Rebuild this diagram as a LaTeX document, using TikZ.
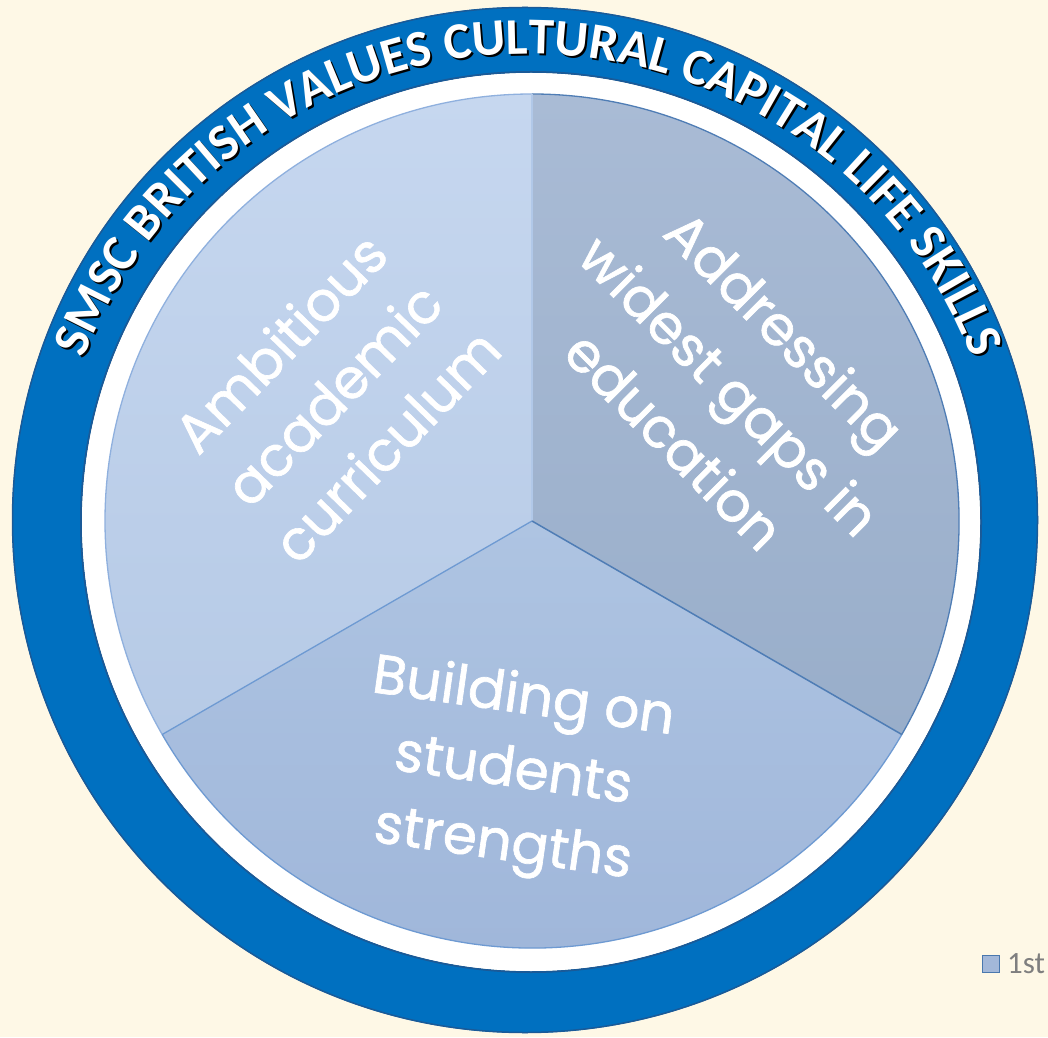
\documentclass[tikz,border=0pt]{standalone}
\usepackage{fontspec}
\setmainfont{Poppins}
\newfontfamily\ringfont{Carlito}
\newfontfamily\labelfont{Poppins}[FakeBold=1.2]
\usetikzlibrary{decorations.text}
\definecolor{bg}{HTML}{FEF8E6}
\definecolor{ringblue}{HTML}{0070C0}
\definecolor{ringedge}{HTML}{1A5A98}
\definecolor{tlTop}{HTML}{C6D7EF}
\definecolor{tlBot}{HTML}{B6CAE6}
\definecolor{trTop}{HTML}{A9BBD5}
\definecolor{trBot}{HTML}{99AECA}
\definecolor{bTop}{HTML}{AEC4E2}
\definecolor{bBot}{HTML}{9EB5D9}
\definecolor{lineLight}{HTML}{8FB0DE}
\definecolor{lineMid}{HTML}{6E9AD2}
\definecolor{lineDark}{HTML}{4F7DB5}
\definecolor{legFill}{HTML}{A3B8D9}
\definecolor{legEdge}{HTML}{4A78AE}
\definecolor{legText}{HTML}{7F7F7F}
\tikzset{
  lab/.style={text=white, align=center, inner sep=0pt,
    font=\labelfont\fontsize{55}{74}\selectfont},
  ringtext/.style={decorate, decoration={text along path, text align=center,
    text color=#1,
    text={|\ringfont\bfseries\fontsize{51.5}{51.5}\selectfont|SMSC BRITISH VALUES CULTURAL CAPITAL LIFE SKILLS}}}
}
\begin{document}
\begin{tikzpicture}[x=1pt,y=1pt]
\useasboundingbox (0,0) rectangle (1048,1037);
\fill[bg] (0,0) rectangle (1048,1037);
% blue ring
\fill[ringblue, even odd rule] (525,517) circle[radius=513] (531,515) circle[radius=450];
\draw[ringedge, line width=1.5] (525,517) circle[radius=512.5];
\draw[ringedge, line width=2] (531,515) circle[radius=450];
\fill[white] (531,515) circle[radius=449];
% pie
\coordinate (P) at (532,516);
\shade[top color=tlTop, bottom color=tlBot] (P) -- ++(90:427) arc[start angle=90, end angle=210, radius=427] -- cycle;
\shade[top color=trTop, bottom color=trBot] (P) -- ++(-30:427) arc[start angle=-30, end angle=90, radius=427] -- cycle;
\shade[top color=bTop, bottom color=bBot] (P) -- ++(210:427) arc[start angle=210, end angle=330, radius=427] -- cycle;
\draw[lineLight, line width=1.3] (P) ++(90:427) arc[start angle=90, end angle=210, radius=427];
\draw[lineDark, line width=1.3] (P) ++(-30:427) arc[start angle=-30, end angle=90, radius=427];
\draw[lineMid, line width=1.3] (P) ++(210:427) arc[start angle=210, end angle=330, radius=427];
\draw[lineLight!70!white, line width=1.2] (P) -- ++(90:427);
\draw[lineMid, line width=1.3] (P) -- ++(210:427);
\draw[lineDark, line width=1.5] (P) -- ++(-30:427);
% ring text (shadow then white)
\path[ringtext=black] (82.7,667.8) arc[start angle=160, end angle=20, radius=476];
\path[ringtext=white] (80.7,669.8) arc[start angle=160, end angle=20, radius=476];
% slice labels
\node[lab, rotate=46] (t1) at (333,643) {Ambitious\\academic\\curriculum};
\node[lab, rotate=-45, font=\labelfont\fontsize{55}{78}\selectfont] (t2) at (730,652) {Addressing\\widest gaps in\\education};
\node[lab, rotate=-8] (t3) at (513,264) {Building on\\students\\strengths};
% legend
\node[draw=legEdge, fill=legFill, line width=1.2, minimum size=17pt, inner sep=0pt] (lg) at (991,73) {};
\node[anchor=west, text=legText, inner sep=0pt, font=\ringfont\fontsize{31}{31}\selectfont] (lgt) at (1007,73) {1st};
\end{tikzpicture}
\end{document}
